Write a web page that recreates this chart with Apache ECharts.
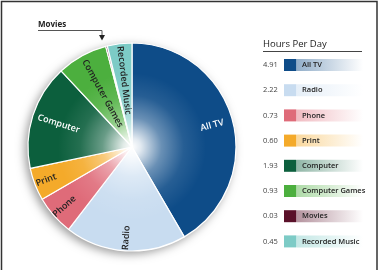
<!DOCTYPE html>
<html>
<head>
<meta charset="utf-8">
<script src="https://cdn.jsdelivr.net/npm/echarts@6/dist/echarts.min.js"></script>
<style>
  html, body { margin: 0; padding: 0; background: #fff; }
  #main { width: 382px; height: 270px; }
</style>
</head>
<body>
<div id="main"></div>
<script>
var myChart = echarts.init(document.getElementById('main'));

// 数据
var categories = ['All TV', 'Radio', 'Phone', 'Print', 'Computer', 'Computer Games', 'Movies', 'Recorded Music'];
var hours = [4.91, 2.22, 0.73, 0.60, 1.93, 0.93, 0.03, 0.45];
var valueLabels = ['4.91', '2.22', '0.73', '0.60', '1.93', '0.93', '0.03', '0.45'];
var colors = ['#0e4c88', '#c8dcf0', '#df6b79', '#f4aa2a', '#0c5f3d', '#4caf3e', '#5a1029', '#7dcbc6'];
var textColors = ['#fff', '#222', '#222', '#222', '#fff', '#222', '#222', '#222'];
// 标签沿半径方向的微调（padding）
var labelPads = [[0, 0, 0, 0], [0, 16, 0, 0], [0, 14, 0, 0], [0, 18, 0, 0], [0, 0, 0, 12], [0, 0, 0, 44], [0, 0, 0, 0], [0, 0, 0, 32]];

var cx = 132, cy = 147, R = 104;
var font = 'Open Sans';

function hexA (hex, a) {
  var n = parseInt(hex.slice(1), 16);
  return 'rgba(' + (n >> 16) + ',' + ((n >> 8) & 255) + ',' + (n & 255) + ',' + a + ')';
}

var pieData = [];
var labelData = [];
for (var i = 0; i < categories.length; i++) {
  pieData.push({ name: categories[i], value: hours[i], itemStyle: { color: colors[i] } });
  labelData.push({
    name: categories[i], value: hours[i],
    label: { show: categories[i] != 'Movies', color: textColors[i], padding: labelPads[i] }
  });
}

// 图例（右侧列表）
var graphics = [];
graphics.push({ type: 'rect', shape: { x: 1.5, y: 1.5, width: 375.5, height: 280 }, style: { fill: 'none', stroke: '#333', lineWidth: 1.5 }, silent: true });
graphics.push({ type: 'text', x: 263, y: 44, style: { text: 'Hours Per Day', font: '9.5px "' + font + '"', fill: '#222', verticalAlign: 'middle' } });
graphics.push({ type: 'line', shape: { x1: 263, y1: 51.5, x2: 362, y2: 51.5 }, style: { stroke: '#444', lineWidth: 1 } });
for (var k = 0; k < categories.length; k++) {
  var y = 65 + k * 25.2;
  graphics.push({ type: 'text', x: 263, y: y, style: { text: valueLabels[k], font: '7.5px "' + font + '"', fill: '#444', verticalAlign: 'middle' } });
  graphics.push({ type: 'rect', shape: { x: 284, y: y - 6, width: 12.5, height: 12 }, style: { fill: colors[k] } });
  graphics.push({
    type: 'rect', shape: { x: 297, y: y - 6, width: 66, height: 12 },
    style: { fill: new echarts.graphic.LinearGradient(0, 0, 1, 0, [{ offset: 0, color: hexA(colors[k], 0.45) }, { offset: 1, color: hexA(colors[k], 0) }]) }
  });
  graphics.push({ type: 'text', x: 302, y: y, style: { text: categories[k], font: '600 7.5px "' + font + '"', fill: '#222', verticalAlign: 'middle' } });
}
// Movies 标注
graphics.push({ type: 'polyline', shape: { points: [[38, 30.5], [102, 30.5], [102, 36]] }, style: { stroke: '#555', lineWidth: 1, fill: 'none' } });
graphics.push({ type: 'polygon', shape: { points: [[99, 35], [105, 35], [102, 40.5]] }, style: { fill: '#222' } });
graphics.push({ type: 'text', x: 38, y: 28.5, style: { text: 'Movies', font: 'bold 8px "' + font + '"', fill: '#222', verticalAlign: 'bottom' } });

var option = {
  animation: false,
  backgroundColor: '#fff',
  graphic: graphics,
  series: [
    { // 阴影
      type: 'pie', silent: true, center: [cx, cy], radius: [0, R],
      label: { show: false }, labelLine: { show: false },
      itemStyle: { color: '#fff', shadowColor: 'rgba(0,0,0,0.4)', shadowBlur: 10, shadowOffsetX: -3, shadowOffsetY: 3 },
      data: [{ value: 1 }]
    },
    {
      type: 'pie', silent: true, center: [cx, cy], radius: [0, R], startAngle: 90, clockwise: true,
      label: { show: false }, labelLine: { show: false },
      itemStyle: { borderColor: '#fff', borderWidth: 1.2 },
      data: pieData
    },
    { // 中心光晕
      type: 'pie', silent: true, center: [cx, cy], radius: [0, 74],
      label: { show: false }, labelLine: { show: false },
      itemStyle: {
        color: new echarts.graphic.RadialGradient(0.5, 0.5, 0.5, [
          { offset: 0, color: 'rgba(255,255,255,1)' },
          { offset: 0.12, color: 'rgba(255,255,255,0.88)' },
          { offset: 0.4, color: 'rgba(255,255,255,0.38)' },
          { offset: 0.7, color: 'rgba(255,255,255,0.1)' },
          { offset: 1, color: 'rgba(255,255,255,0)' }
        ])
      },
      data: [{ value: 1 }]
    },
    { // 标签
      type: 'pie', silent: true, center: [cx, cy], radius: [56, R], startAngle: 90, clockwise: true,
      itemStyle: { color: 'rgba(0,0,0,0)' },
      label: { show: true, position: 'inside', rotate: 'radial', fontFamily: font, fontSize: 9, fontWeight: 600 },
      labelLine: { show: false },
      data: labelData
    }
  ]
};
myChart.setOption(option);
</script>
</body>
</html>
